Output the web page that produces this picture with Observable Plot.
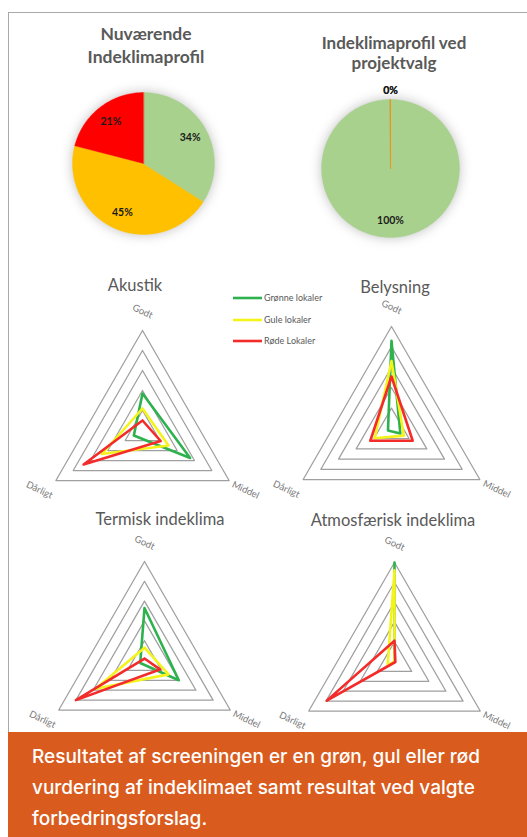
<!DOCTYPE html>
<html>
<head>
<meta charset="utf-8">
<script src="https://cdn.jsdelivr.net/npm/d3@7"></script>
<script src="https://cdn.jsdelivr.net/npm/@observablehq/plot@0.6"></script>
<style>
  html, body { margin: 0; padding: 0; background: #fff; }
  #root { position: relative; width: 527px; height: 837px; overflow: hidden; font-family: Lato, "Open Sans", sans-serif; background: #fff; }
  .frame { position: absolute; left: 8px; top: 12px; width: 700px; height: 900px; border-left: 1.6px solid #a9a9a9; border-top: 1.6px solid #a9a9a9; }
  .panel { position: absolute; }
  .panel svg { overflow: visible; }
  .pie g[aria-label="geo"] { filter: drop-shadow(0 0 6px rgba(0,0,0,0.25)); }
  .overlay { position: absolute; left: 0; top: 0; pointer-events: none; }
  .caption { position: absolute; left: 8px; top: 732px; width: 519px; height: 105px; background: #D95B1E; color: #fff;
             box-sizing: border-box; padding: 9px 0 0 24px; }
  .caption div { width: 472px; font-family: Inter, "Open Sans", sans-serif; font-weight: 500;
             font-size: 19px; line-height: 31px; }
</style>
</head>
<body>
<div id="root"><div class="frame"></div></div>
<script>
// ---------------- data ----------------
const pieCategories = ["Grøn", "Gul", "Rød"];
const nuvaerendeProfil = [34, 45, 21];
const projektvalgProfil = [100, 0, 0];

const radarAxes = ["Godt", "Middel", "Dårligt"];
const seriesNames = ["Grønne lokaler", "Gule lokaler", "Røde Lokaler"];
const gridLevels = [0.2, 0.4, 0.6, 0.8, 1.0];

// values per series (Grønne, Gule, Røde) for axes Godt, Middel, Dårligt
const akustik      = [[0.37, 0.55, 0.10], [0.22, 0.30, 0.47], [0.10, 0.21, 0.68]];
const belysning    = [[0.86, 0.10, 0.04], [0.66, 0.14, 0.19], [0.51, 0.24, 0.24]];
const termisk      = [[0.53, 0.40, 0.05], [0.13, 0.28, 0.57], [0.02, 0.18, 0.80]];
const atmosfaerisk = [[1.00, 0.00, 0.00], [0.92, 0.00, 0.08], [0.21, 0.01, 0.79]];

const pieTitles = [["Nuværende", "Indeklimaprofil"], ["Indeklimaprofil ved", "projektvalg"]];
const radarTitles = ["Akustik", "Belysning", "Termisk indeklima", "Atmosfærisk indeklima"];
const captionText = "Resultatet af screeningen er en grøn, gul eller rød vurdering af indeklimaet samt resultat ved valgte forbedringsforslag.";

// ---------------- styles ----------------
const pieColors = ["#A9D18E", "#FFC000", "#FF0000"];
const seriesColors = ["#2DB24E", "#F4F41C", "#F42B2B"];
const gray = "#595959";

const root = document.getElementById("root");

function place(node, left, top, cls) {
  const div = document.createElement("div");
  div.className = "panel" + (cls ? " " + cls : "");
  div.style.left = left + "px";
  div.style.top = top + "px";
  div.appendChild(node);
  root.appendChild(div);
}

// ---------------- pies ----------------
function piePanel(values, L) {
  const arcs = d3.pie().sort(null)(values);
  const wedges = arcs.map((a, i) => {
    const steps = Math.max(1, Math.ceil((a.endAngle - a.startAngle) / 0.02));
    const ring = [[0, 0]];
    for (let k = 0; k <= steps; k++) {
      const t = a.startAngle + (a.endAngle - a.startAngle) * k / steps;
      ring.push([Math.sin(t), Math.cos(t)]);
    }
    ring.push([0, 0]);
    return {type: "Feature", properties: {cat: pieCategories[i], index: i, value: a.value},
            geometry: {type: "Polygon", coordinates: [ring]}};
  });
  const labels = arcs.map((a) => {
    const m = (a.startAngle + a.endAngle) / 2;
    const r = a.value === 0 ? L.zeroLabelR : L.labelR;
    return {text: a.value + "%", x: r * Math.sin(m), y: r * Math.cos(m)};
  });
  return Plot.plot({
    width: L.width, height: L.height,
    marginLeft: L.ml, marginRight: L.mr, marginTop: L.mt, marginBottom: L.mb,
    projection: {type: "reflect-y", clip: false,
                 domain: {type: "Polygon", coordinates: [[[-1, -1], [1, -1], [1, 1], [-1, 1], [-1, -1]]]}},
    color: {domain: pieCategories, range: pieColors},
    marks: [
      Plot.geo(wedges, {
        fill: d => d.properties.cat, stroke: d => d.properties.cat, strokeWidth: 0.5, strokeOpacity: 0.7,
        sort: (a, b) => d3.descending(a.properties.value, b.properties.value) || d3.descending(a.properties.index, b.properties.index)
      }),
      Plot.text(labels, {x: "x", y: "y", text: "text", fontSize: 10.5, fontWeight: "bold", fill: "#1a1a1a", fontFamily: "Lato", clip: false})
    ]
  });
}

place(piePanel(nuvaerendeProfil, {width: 263, height: 260, ml: 72, mr: 49, mt: 92, mb: 26, labelR: 0.75, zeroLabelR: 1.13}), 0, 0, "pie");
place(piePanel(projektvalgProfil, {width: 264, height: 260, ml: 58, mr: 68, mt: 99, mb: 23, labelR: 0.75, zeroLabelR: 1.13}), 263, 0, "pie");

// ---------------- radars ----------------
function radar(values, L) {
  const n = radarAxes.length;
  const pt = (r, i) => [r * Math.sin(i * 2 * Math.PI / n), r * Math.cos(i * 2 * Math.PI / n)];
  const closed = d3.range(n + 1).map(i => i % n);
  const grid = gridLevels.flatMap(r => closed.map(i => ({ring: r, x: pt(r, i)[0], y: pt(r, i)[1]})));
  const series = values.flatMap((vals, s) => closed.map(i => ({series: seriesNames[s], x: pt(vals[i], i)[0], y: pt(vals[i], i)[1]})));
  const labels = radarAxes.map((a, i) => ({label: a, x: pt(L.labelR, i)[0], y: pt(L.labelR, i)[1]}));
  return Plot.plot({
    width: L.width, height: L.height, margin: 0,
    x: {axis: null, domain: [-1, 1], range: [L.cx - L.R, L.cx + L.R]},
    y: {axis: null, domain: [-1, 1], range: [L.cy + L.R, L.cy - L.R]},
    color: {domain: seriesNames, range: seriesColors},
    marks: [
      Plot.line(grid, {x: "x", y: "y", z: "ring", stroke: "#9f9f9f", strokeWidth: 1.25}),
      Plot.line(series, {x: "x", y: "y", z: "series", stroke: "series", strokeWidth: 2.6}),
      Plot.text(labels, {x: "x", y: "y", text: "label", rotate: 25, fontSize: 9.5, fill: "#7a7a7a", fontFamily: "Lato"})
    ]
  });
}

place(radar(akustik,      {width: 263, height: 240, cx: 142, cy: 170, R: 100, labelR: 1.19}), 0, 260);
place(radar(belysning,    {width: 264, height: 240, cx: 128, cy: 168, R: 102, labelR: 1.19}), 263, 260);
place(radar(termisk,      {width: 263, height: 232, cx: 144, cy: 160, R: 99,  labelR: 1.19}), 0, 500);
place(radar(atmosfaerisk, {width: 264, height: 232, cx: 131, cy: 161, R: 99,  labelR: 1.19}), 263, 500);

// ---------------- text overlay (titles, legend) ----------------
const svg = d3.select(root).append("svg").attr("class", "overlay").attr("width", 527).attr("height", 837);
function title(lines, cx, baseline, lh, size, weight) {
  lines.forEach((t, i) => svg.append("text").attr("x", cx).attr("y", baseline + i * lh)
    .attr("text-anchor", "middle").attr("fill", gray).attr("font-family", "Lato")
    .attr("font-size", size).attr("font-weight", weight).text(t));
}
title(pieTitles[0], 146, 40, 23, 17.5, "bold");
title(pieTitles[1], 394, 49, 20, 17, "bold");
title([radarTitles[0]], 135, 291, 0, 16.5, "normal");
title([radarTitles[1]], 395, 293, 0, 16.5, "normal");
title([radarTitles[2]], 160, 525, 0, 16.5, "normal");
title([radarTitles[3]], 393, 526, 0, 16.5, "normal");

const legendY = [298, 320, 341];
seriesNames.forEach((name, i) => {
  svg.append("line").attr("x1", 233).attr("x2", 262).attr("y1", legendY[i]).attr("y2", legendY[i])
    .attr("stroke", seriesColors[i]).attr("stroke-width", 2.6);
  svg.append("text").attr("x", 264).attr("y", legendY[i] + 3).attr("fill", gray)
    .attr("font-family", "Lato").attr("font-size", 9).text(name);
});

// ---------------- caption ----------------
const cap = document.createElement("div");
cap.className = "caption";
const capText = document.createElement("div");
capText.textContent = captionText;
cap.appendChild(capText);
root.appendChild(cap);
</script>
</body>
</html>
